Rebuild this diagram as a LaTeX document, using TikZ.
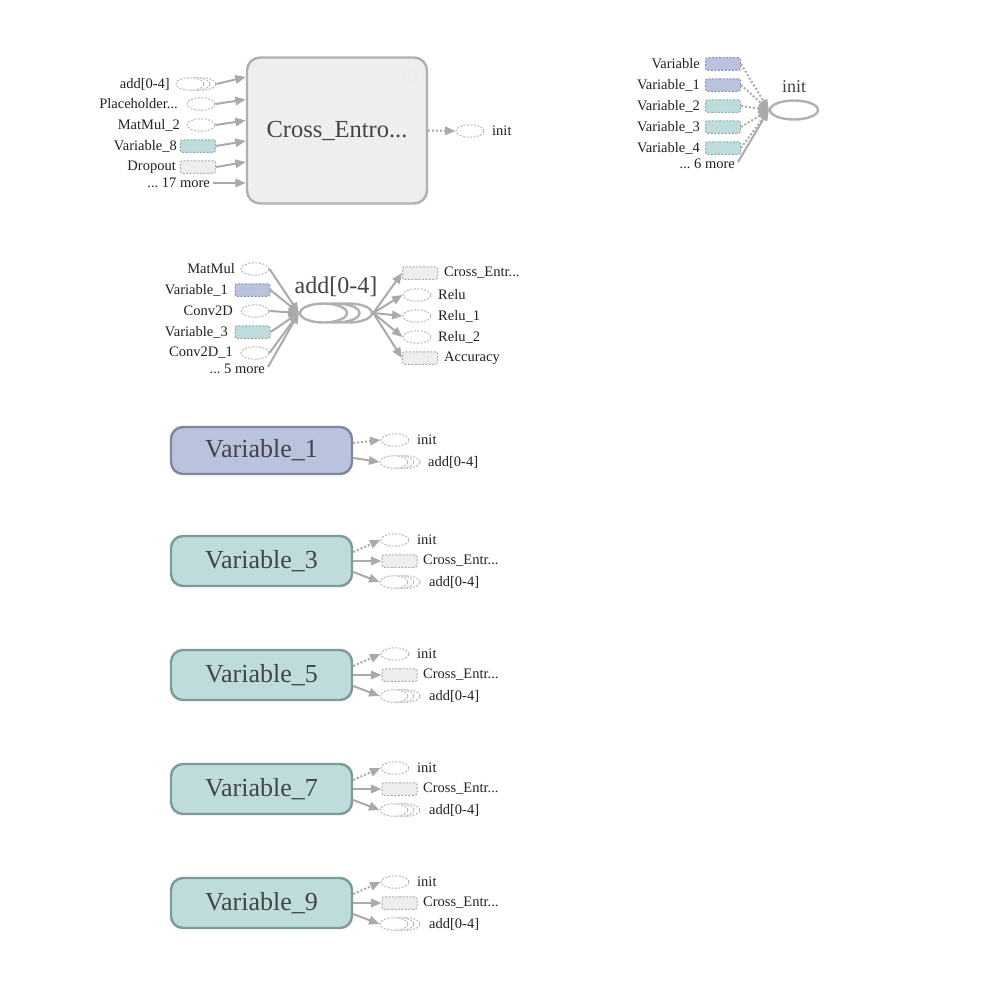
\documentclass[tikz,border=0pt]{standalone}
\usepackage{fontspec}
\setmainfont{Liberation Serif}
\usetikzlibrary{shapes.geometric,arrows.meta}
\definecolor{txt}{HTML}{222222}
\definecolor{txtd}{HTML}{444444}
\definecolor{grayf}{HTML}{EEEEEE}
\definecolor{grayd}{HTML}{AAAAAA}
\definecolor{bluef}{HTML}{BAC3DD}
\definecolor{blued}{HTML}{8A93AD}
\definecolor{tealf}{HTML}{BDDCDB}
\definecolor{teald}{HTML}{88A9A8}
\definecolor{bigblued}{HTML}{7F8799}
\definecolor{bigteald}{HTML}{7E9A99}
\definecolor{ellc}{HTML}{B8B8B8}
\definecolor{boxd}{HTML}{B0B0B0}
\definecolor{edgec}{HTML}{AAAAAA}
\definecolor{faint}{HTML}{E9E9E9}
\tikzset{
 lbl/.style={font=\fontsize{14.5}{16}\selectfont, text=txt, inner sep=0pt},
 sell/.style={ellipse, draw=ellc, dash pattern=on 2pt off 1.5pt, line width=1pt, fill=white, minimum width=28pt, minimum height=12.5pt, inner sep=0pt},
 srect/.style={rectangle, rounded corners=2pt, dash pattern=on 2pt off 1.5pt, line width=1pt, minimum width=35pt, minimum height=12.5pt, inner sep=0pt},
 sgray/.style={srect, fill=grayf, draw=grayd},
 sblue/.style={srect, fill=bluef, draw=blued},
 steal/.style={srect, fill=tealf, draw=teald},
 flow/.style={draw=edgec, line width=2pt, -{Triangle[length=10.5pt,width=8.5pt]}},
 ctrl/.style={flow, dash pattern=on 2pt off 2pt},
 bigbox/.style={rectangle, rounded corners=12pt, line width=2.4pt, minimum width=181pt, minimum height=50pt, inner sep=0pt, font=\fontsize{26}{28}\selectfont, text=txtd},
 tealbox/.style={bigbox, fill=tealf, draw=bigteald},
 bluebox/.style={bigbox, fill=bluef, draw=bigblued},
 bigell/.style={ellipse, draw=boxd, line width=2.4pt, fill=white, inner sep=0pt},
}
\newcommand\sernode[3]{%
 \node[sell] (#1c) at (#2+12,#3) {};
 \node[sell] (#1b) at (#2+6,#3) {};
 \node[sell] (#1) at (#2,#3) {};
}
\newcommand\vgroup[3]{%
 \node[tealbox] (#1) at (261.5,#2) {#3};
 \node[sell] (#1i) at (395,#2-21) {};
 \node[lbl, anchor=west] (#1il) at (417,#2-21) {init};
 \node[sgray] (#1x) at (399.5,#2) {};
 \node[lbl, anchor=west] (#1xl) at (423,#2) {Cross\_Entr...};
 \sernode{#1a}{394}{#2+21}
 \node[lbl, anchor=west] (#1al) at (429,#2+21) {add[0-4]};
 \draw[ctrl] ([yshift=9pt]#1.east) -- (#1i.west);
 \draw[flow] (#1.east) -- (#1x.west);
 \draw[flow] ([yshift=-11pt]#1.east) -- (#1a.west);
}
\begin{document}
\frenchspacing
\begin{tikzpicture}[x=1pt,y=-1pt]
\useasboundingbox[fill=white] (0,0) rectangle (982,982);

% ---------- Cross_Entropy group ----------
\node[bigbox, fill=grayf, draw=boxd, minimum width=180pt, minimum height=146pt, rounded corners=13pt, font=\fontsize{24.5}{28}\selectfont] (ce) at (337,130.5) {Cross\_Entro...};
\node[circle, draw=faint, line width=0.8pt, minimum size=13pt, inner sep=0pt] (cebtn) at (410,76) {};

\sernode{iadd}{190}{84}
\node[lbl, anchor=east] (liadd) at (170,84) {add[0-4]};
\node[sell] (iph) at (201,104) {};
\node[lbl, anchor=east] (liph) at (178,104) {Placeholder...};
\node[sell] (imm) at (201,125) {};
\node[lbl, anchor=east] (limm) at (180,125) {MatMul\_2};
\node[steal] (iv8) at (198,146) {};
\node[lbl, anchor=east] (liv8) at (177,146) {Variable\_8};
\node[sgray] (idr) at (198,167) {};
\node[lbl, anchor=east] (lidr) at (176,167) {Dropout};
\node[lbl, anchor=east] (i17) at (210,183) {... 17 more};

\draw[flow] (iaddc.east) -- ([yshift=53.5pt]ce.west);
\draw[flow] (iph.east) -- ([yshift=31pt]ce.west);
\draw[flow] (imm.east) -- ([yshift=10pt]ce.west);
\draw[flow] (iv8.east) -- ([yshift=-10.5pt]ce.west);
\draw[flow] (idr.east) -- ([yshift=-31.5pt]ce.west);
\draw[flow] ([xshift=3pt]i17.east) -- ([yshift=-52.5pt]ce.west);

\node[sell] (oinit) at (470,131) {};
\node[lbl, anchor=west] (loinit) at (492,131) {init};
\draw[ctrl] (ce.east) -- (oinit.west);

% ---------- init group ----------
\node[bigell, minimum width=48pt, minimum height=19pt] (init) at (794,110) {};
\node[font=\fontsize{18}{20}\selectfont, text=txtd, inner sep=0pt] (initl) at (794,87) {init};
\node[sblue] (tv0) at (723,64) {};
\node[lbl, anchor=east] (ltv0) at (700,64) {Variable};
\node[sblue] (tv1) at (723,85) {};
\node[lbl, anchor=east] (ltv1) at (700,85) {Variable\_1};
\node[steal] (tv2) at (723,106) {};
\node[lbl, anchor=east] (ltv2) at (700,106) {Variable\_2};
\node[steal] (tv3) at (723,127) {};
\node[lbl, anchor=east] (ltv3) at (700,127) {Variable\_3};
\node[steal] (tv4) at (723,148) {};
\node[lbl, anchor=east] (ltv4) at (700,148) {Variable\_4};
\node[lbl, anchor=east] (tm6) at (735,164) {... 6 more};
\foreach \n in {tv0,tv1,tv2,tv3,tv4} \draw[ctrl] (\n.east) -- (init.west);
\draw[flow] ([xshift=3pt,yshift=2pt]tm6.east) -- (init.west);

% ---------- add[0-4] group ----------
\node[bigell, minimum width=47pt, minimum height=19pt] (addc) at (348.5,313) {};
\node[bigell, minimum width=47pt, minimum height=19pt] (addb) at (336,313) {};
\node[bigell, minimum width=47pt, minimum height=19pt] (add) at (323.5,313) {};
\node[font=\fontsize{24}{26}\selectfont, text=txtd, inner sep=0pt] (addl) at (336,287) {add[0-4]};

\node[sell] (am) at (255,269) {};
\node[lbl, anchor=east] (lam) at (235,269) {MatMul};
\node[sblue] (av1) at (252.5,290) {};
\node[lbl, anchor=east] (lav1) at (228,290) {Variable\_1};
\node[sell] (ac) at (255,311) {};
\node[lbl, anchor=east] (lac) at (233,311) {Conv2D};
\node[steal] (av3) at (252.5,332) {};
\node[lbl, anchor=east] (lav3) at (228,332) {Variable\_3};
\node[sell] (ac1) at (255,353) {};
\node[lbl, anchor=east] (lac1) at (233,353) {Conv2D\_1};
\node[lbl, anchor=east] (am5) at (265,369) {... 5 more};
\foreach \n in {am,av1,ac,av3,ac1} \draw[flow] (\n.east) -- (add.west);
\draw[flow] ([xshift=3pt,yshift=2pt]am5.east) -- (add.west);

\node[sgray] (oce) at (420,273) {};
\node[lbl, anchor=west] (loce) at (444,273) {Cross\_Entr...};
\node[sell] (or0) at (417,295) {};
\node[lbl, anchor=west] (lor0) at (438,295) {Relu};
\node[sell] (or1) at (417,316) {};
\node[lbl, anchor=west] (lor1) at (438,316) {Relu\_1};
\node[sell] (or2) at (417,337) {};
\node[lbl, anchor=west] (lor2) at (438,337) {Relu\_2};
\node[sgray] (oacc) at (420,358) {};
\node[lbl, anchor=west] (loacc) at (444,358) {Accuracy};
\foreach \n in {oce,or0,or1,or2,oacc} \draw[flow] (addc.east) -- (\n.west);

% ---------- Variable_1 ----------
\node[bluebox, minimum height=47pt] (v1) at (261.5,450.5) {Variable\_1};
\node[sell] (v1i) at (395,440) {};
\node[lbl, anchor=west] (v1il) at (417,440) {init};
\sernode{v1a}{394}{462}
\node[lbl, anchor=west] (v1al) at (428,462) {add[0-4]};
\draw[ctrl] ([yshift=7.5pt]v1.east) -- (v1i.west);
\draw[flow] ([yshift=-7.5pt]v1.east) -- (v1a.west);

% ---------- Variable_3..9 ----------
\vgroup{v3}{561}{Variable\_3}
\vgroup{v5}{675}{Variable\_5}
\vgroup{v7}{789}{Variable\_7}
\vgroup{v9}{903}{Variable\_9}
\end{tikzpicture}
\end{document}
